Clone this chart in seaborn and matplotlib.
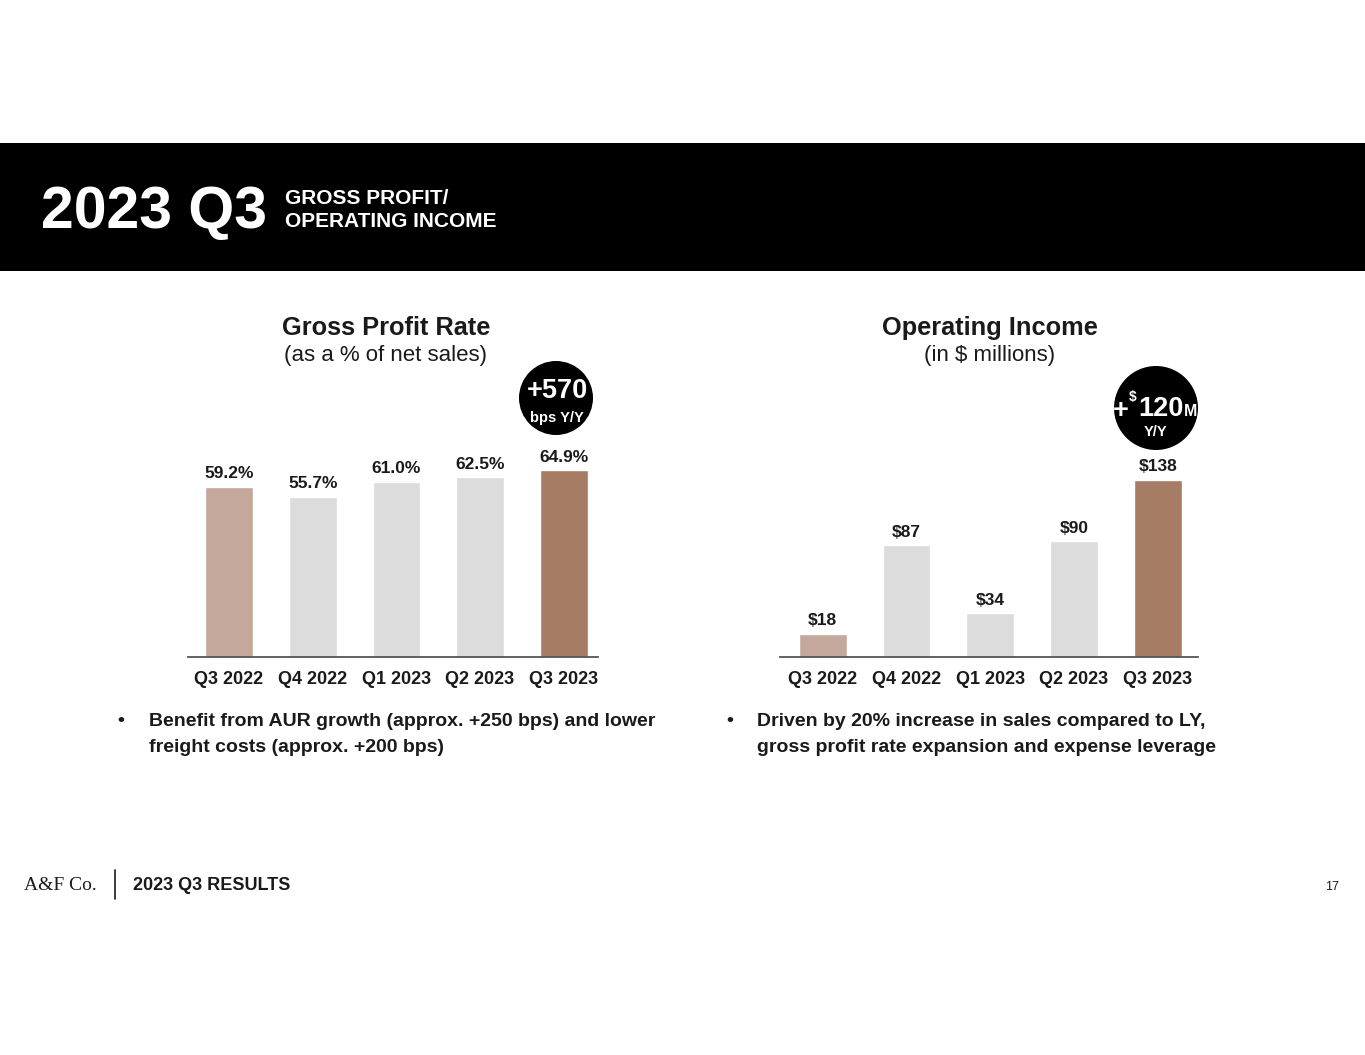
import matplotlib
matplotlib.use("Agg")
import matplotlib.pyplot as plt
import seaborn as sns
import pandas as pd
from matplotlib.patches import Rectangle, Ellipse
from matplotlib.lines import Line2D

# ---- data ----
quarters = ["Q3 2022", "Q4 2022", "Q1 2023", "Q2 2023", "Q3 2023"]
gross_profit_rate = [59.2, 55.7, 61.0, 62.5, 64.9]
operating_income = [18, 87, 34, 90, 138]
gp_labels = ["59.2%", "55.7%", "61.0%", "62.5%", "64.9%"]
oi_labels = ["$18", "$87", "$34", "$90", "$138"]
bar_colors = ["#c4a89c", "#dcdcdc", "#dcdcdc", "#dcdcdc", "#a67c64"]

sns.set_theme(style="white")
BODY = ["Liberation Sans", "DejaVu Sans"]
plt.rcParams["font.family"] = BODY

W, H = 1365, 1055
fig = plt.figure(figsize=(W / 100, H / 100), dpi=100)
fig.patch.set_facecolor("white")

def fx(px):
    return px / W

def fy(py):
    return 1 - py / H

TXT = "#1a1a1a"

# header band
fig.add_artist(Rectangle((0, fy(271)), 1, (271 - 143) / H, transform=fig.transFigure,
                         facecolor="black", edgecolor="none", zorder=0))
fig.text(fx(41), fy(213), "2023 Q3", color="white", fontsize=42.5, fontweight="bold",
         va="center", ha="left")
fig.text(fx(285), fy(210), "GROSS PROFIT/\nOPERATING INCOME", color="white", fontsize=15,
         fontweight="bold", va="center", ha="left", linespacing=1.25)

palette = dict(zip(quarters, bar_colors))
axis_top_px = 400
base_px = 657

def make_chart(left_px, right_px, values, labels, px_per_unit, xlim, title, subtitle, cx_px):
    ax = fig.add_axes([fx(left_px), fy(base_px), (right_px - left_px) / W, (base_px - axis_top_px) / H])
    df = pd.DataFrame({"q": quarters, "v": values})
    sns.barplot(data=df, x="q", y="v", hue="q", palette=palette, width=0.57,
                legend=False, ax=ax, saturation=1)
    ax.set_xlim(*xlim)
    ax.set_ylim(0, (base_px - axis_top_px) / px_per_unit)
    for i, (v, lab) in enumerate(zip(values, labels)):
        ax.annotate(lab, (i, v), xytext=(0, 4), textcoords="offset points",
                    ha="center", va="bottom", fontsize=12.5, fontweight="bold", color=TXT)
    for s in ["top", "right", "left"]:
        ax.spines[s].set_visible(False)
    ax.spines["bottom"].set_color("#555555")
    ax.spines["bottom"].set_linewidth(1.3)
    ax.set_yticks([])
    ax.set_xlabel("")
    ax.set_ylabel("")
    ax.tick_params(axis="x", length=0, pad=10)
    for t in ax.get_xticklabels():
        t.set_fontweight("bold")
        t.set_fontsize(13)
        t.set_color(TXT)
    ax.set_facecolor("none")
    fig.text(fx(cx_px), fy(328), title, fontsize=18.3, fontweight="bold", ha="center",
             va="center", color=TXT)
    fig.text(fx(cx_px), fy(356), subtitle, fontsize=16, ha="center", va="center", color=TXT)
    return ax

make_chart(188, 598, gross_profit_rate, gp_labels, 2.875, (-0.49, 4.41),
           "Gross Profit Rate", "(as a % of net sales)", 386)
make_chart(780, 1198, operating_income, oi_labels, 1.285, (-0.51, 4.48),
           "Operating Income", "(in $ millions)", 990)

# badges
for (cx, cy, r) in [(556, 398, 37), (1156, 408, 42)]:
    fig.add_artist(Ellipse((fx(cx), fy(cy)), 2 * r / W, 2 * r / H, transform=fig.transFigure,
                           facecolor="black", edgecolor="none", zorder=5))

fig.text(fx(557), fy(391), "+570", color="white", fontsize=19.5, fontweight="bold",
         ha="center", va="center", zorder=6)
fig.text(fx(557), fy(418), "bps Y/Y", color="white", fontsize=10.5, fontweight="bold",
         ha="center", va="center", zorder=6)

fig.text(fx(1121), fy(411), "+", color="white", fontsize=19.5, fontweight="bold",
         ha="center", va="center", zorder=6)
fig.text(fx(1133), fy(397), "$", color="white", fontsize=10, fontweight="bold",
         ha="center", va="center", zorder=6)
fig.text(fx(1161), fy(409), "120", color="white", fontsize=19.5, fontweight="bold",
         ha="center", va="center", zorder=6)
fig.text(fx(1191), fy(412), "M", color="white", fontsize=11.5, fontweight="bold",
         ha="center", va="center", zorder=6)
fig.text(fx(1156), fy(432), "Y/Y", color="white", fontsize=10.5, fontweight="bold",
         ha="center", va="center", zorder=6)

# bullets
bullet_kw = dict(fontsize=14, fontweight="bold", ha="left", va="center", color=TXT)
fig.text(fx(117), fy(721), "•", **bullet_kw)
fig.text(fx(149), fy(721), "Benefit from AUR growth (approx. +250 bps) and lower", **bullet_kw)
fig.text(fx(149), fy(747), "freight costs (approx. +200 bps)", **bullet_kw)
fig.text(fx(726), fy(721), "•", **bullet_kw)
fig.text(fx(757), fy(721), "Driven by 20% increase in sales compared to LY,", **bullet_kw)
fig.text(fx(757), fy(747), "gross profit rate expansion and expense leverage", **bullet_kw)

# footer
fig.text(fx(24), fy(885), "A&F Co.", fontsize=14, ha="left", va="center", color=TXT,
         family=["Liberation Serif", "DejaVu Serif"])
fig.add_artist(Line2D([fx(115), fx(115)], [fy(870), fy(899)], transform=fig.transFigure,
                      color=TXT, linewidth=1.2))
fig.text(fx(133), fy(885), "2023 Q3 RESULTS", fontsize=13, fontweight="bold", ha="left",
         va="center", color=TXT)
fig.text(fx(1339), fy(887), "17", fontsize=9, ha="right", va="center", color=TXT)

fig.savefig("out.png", dpi=100, facecolor="white")
